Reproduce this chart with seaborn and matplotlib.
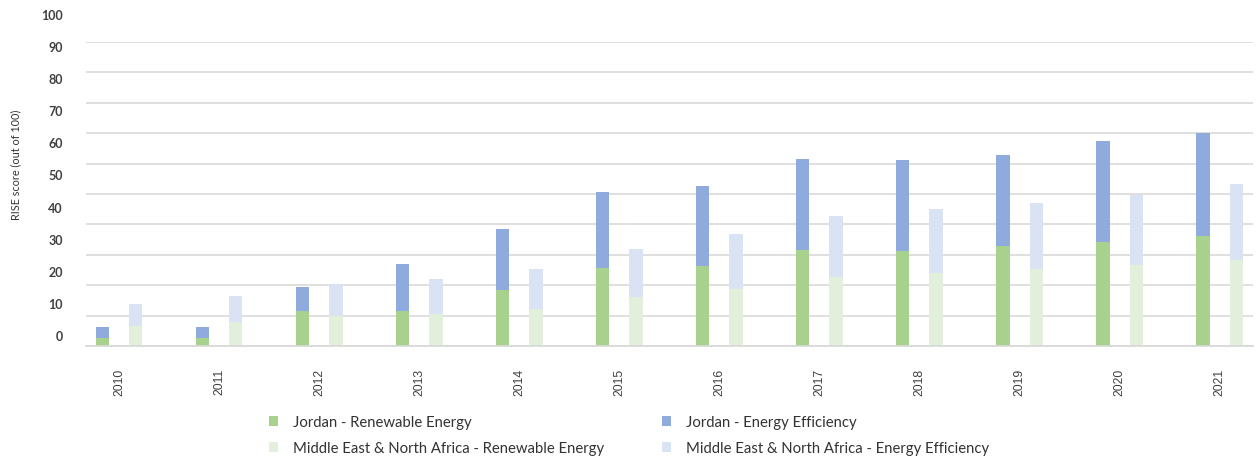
import matplotlib
matplotlib.use("Agg")
import matplotlib.pyplot as plt
from matplotlib.patches import Patch
from matplotlib.transforms import ScaledTranslation
import pandas as pd
import seaborn as sns

# RISE scores
years = [2010, 2011, 2012, 2013, 2014, 2015, 2016, 2017, 2018, 2019, 2020, 2021]
jordan_re = [2.7, 2.7, 11.5, 11.5, 18.3, 25.7, 26.3, 31.6, 31.1, 32.9, 34.1, 36.1]
jordan_ee = [3.6, 3.6, 7.9, 15.4, 20.1, 25.1, 26.2, 30.0, 30.0, 30.0, 33.2, 34.1]
mena_re = [6.6, 7.9, 10.0, 10.5, 12.2, 16.1, 18.9, 22.7, 24.0, 25.3, 26.6, 28.2]
mena_ee = [7.2, 8.5, 10.4, 11.5, 13.1, 15.8, 17.9, 20.1, 21.1, 21.7, 23.2, 25.1]
y_ticks = [0, 10, 20, 30, 40, 50, 60, 70, 80, 90, 100]

re_colors = {"Jordan": "#a9d18e", "MENA": "#e2efda"}
ee_colors = {"Jordan": "#8faadc", "MENA": "#dae3f3"}
legend_labels = [
    ("Jordan - Renewable Energy", re_colors["Jordan"]),
    ("Middle East & North Africa - Renewable Energy", re_colors["MENA"]),
    ("Jordan - Energy Efficiency", ee_colors["Jordan"]),
    ("Middle East & North Africa - Energy Efficiency", ee_colors["MENA"]),
]

# three slots per year: Jordan, MENA, gap
rows = []
for i, yr in enumerate(years):
    rows.append({"pos": 3 * i, "region": "Jordan", "re": jordan_re[i], "ee": jordan_ee[i]})
    rows.append({"pos": 3 * i + 1, "region": "MENA", "re": mena_re[i], "ee": mena_ee[i]})
df = pd.DataFrame(rows)
df["top"] = df["re"] + df["ee"]

sns.set_style("white")
plt.rcParams["font.family"] = ["Lato", "DejaVu Sans"]

fig = plt.figure(figsize=(12.56, 4.6), dpi=100)
ax = fig.add_axes([85.7 / 1256, 1 - 347 / 460, (1253 - 85.7) / 1256, (347 - 43) / 460])

sns.barplot(data=df, x="pos", y="top", hue="region", palette=ee_colors, native_scale=True,
            dodge=False, width=0.4, saturation=1, linewidth=0, errorbar=None, legend=False, ax=ax)
sns.barplot(data=df, x="pos", y="re", hue="region", palette=re_colors, native_scale=True,
            dodge=False, width=0.4, saturation=1, linewidth=0, errorbar=None, legend=False, ax=ax)

n_slots = 3 * len(years) - 1
ax.set_xlim(-0.5, n_slots - 0.5)
ax.set_ylim(0, 100)
ax.set_xlabel("")
ax.set_ylabel("")

# x ticks at every slot boundary, year label between the two bars
bounds = [k - 0.5 for k in range(n_slots + 1)]
labels = []
for b in bounds:
    if (b - 0.5) % 3 == 0:
        labels.append(str(years[int((b - 0.5) // 3)]))
    else:
        labels.append("")
ax.set_xticks(bounds)
ax.set_xticklabels(labels, rotation=90, fontsize=8.8, color="#404040",
                   family=["Liberation Sans", "DejaVu Sans"])
ax.tick_params(axis="x", length=3.5, width=1, color="#d9d9d9", pad=12)

# y grid, labels drawn as text so they can sit where the reference has them
ax.set_yticks(y_ticks)
ax.set_yticklabels([])
ax.tick_params(axis="y", length=0)
ax.yaxis.grid(True, color="#dcdcdc", linewidth=1.3)
ax.set_axisbelow(True)
for v in y_ticks:
    dy = 10 + 0.17 * v
    tr = ax.get_yaxis_transform() + ScaledTranslation(-22.7 / 100, dy / 100, fig.dpi_scale_trans)
    ax.text(0, v, str(v), transform=tr, ha="right", va="center", fontsize=9,
            fontweight="bold", color="#404040")

for s in ["top", "right", "left"]:
    ax.spines[s].set_visible(False)
ax.spines["bottom"].set_color("#d9d9d9")
ax.spines["bottom"].set_linewidth(1.3)

fig.text(16 / 1256, 1 - 164.5 / 460, "RISE score (out of 100)", rotation=90,
         ha="center", va="center", fontsize=7.8, color="#333333")

handles = [Patch(facecolor=c, edgecolor="none", label=l) for l, c in legend_labels]
fig.legend(handles=handles, loc="center", bbox_to_anchor=(629 / 1256, 1 - 436 / 460),
           ncol=2, frameon=False, fontsize=10.7, handlelength=0.6, handleheight=0.7,
           handletextpad=1.0, columnspacing=3.9, labelspacing=0.8, labelcolor="#333333")

fig.savefig("out.png", dpi=100)
